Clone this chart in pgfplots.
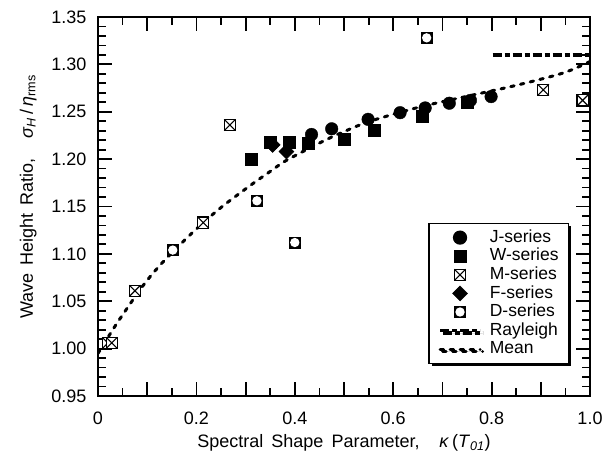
\documentclass[border=0pt]{standalone}
\usepackage{fontspec}
\setmainfont{Liberation Sans}
\usepackage{pgfplots}
\pgfplotsset{compat=1.18}
\usetikzlibrary{shadows}

\pgfdeclareplotmark{sqx}{%
  \pgfpathrectangle{\pgfqpoint{-\pgfplotmarksize}{-\pgfplotmarksize}}{\pgfqpoint{2\pgfplotmarksize}{2\pgfplotmarksize}}%
  \pgfusepathqfillstroke
  \pgfpathmoveto{\pgfqpoint{-\pgfplotmarksize}{-\pgfplotmarksize}}%
  \pgfpathlineto{\pgfqpoint{\pgfplotmarksize}{\pgfplotmarksize}}%
  \pgfpathmoveto{\pgfqpoint{-\pgfplotmarksize}{\pgfplotmarksize}}%
  \pgfpathlineto{\pgfqpoint{\pgfplotmarksize}{-\pgfplotmarksize}}%
  \pgfusepathqstroke
}
\pgfdeclareplotmark{sqo}{%
  \pgfsetfillcolor{black}%
  \pgfpathrectangle{\pgfqpoint{-\pgfplotmarksize}{-\pgfplotmarksize}}{\pgfqpoint{2\pgfplotmarksize}{2\pgfplotmarksize}}%
  \pgfusepathqfill
  \pgfsetfillcolor{white}%
  \pgfpathcircle{\pgfpointorigin}{0.78\pgfplotmarksize}%
  \pgfusepathqfill
}
\pgfdeclareplotmark{dia}{%
  \pgfpathmoveto{\pgfqpoint{0pt}{\pgfplotmarksize}}%
  \pgfpathlineto{\pgfqpoint{\pgfplotmarksize}{0pt}}%
  \pgfpathlineto{\pgfqpoint{0pt}{-\pgfplotmarksize}}%
  \pgfpathlineto{\pgfqpoint{-\pgfplotmarksize}{0pt}}%
  \pgfpathclose
  \pgfusepathqfillstroke
}

\begin{document}
\begin{tikzpicture}[font=\fontsize{18bp}{21bp}\selectfont]
\begin{axis}[
  scale only axis, width=492bp, height=379bp,
  xmin=0, xmax=1, ymin=0.95, ymax=1.35,
  axis line style={line width=2.6bp},
  every tick/.style={black, line width=1.8bp},
  tick align=inside,
  major tick length=14bp, minor tick length=8.5bp,
  xtick={0,0.1,0.2,0.3,0.4,0.5,0.6,0.7,0.8,0.9,1.0},
  xticklabels={0,{},0.2,{},0.4,{},0.6,{},0.8,{},1.0},
  minor x tick num=1,
  ytick={0.95,1.00,1.05,1.10,1.15,1.20,1.25,1.30,1.35},
  yticklabels={0.95,1.00,1.05,1.10,1.15,1.20,1.25,1.30,1.35},
  minor y tick num=4,
  /pgf/number format/assume math mode=true,
  yticklabel style={xshift=-8bp},
  xticklabel style={yshift=-12bp},
  xlabel style={yshift=-3bp},
  ylabel style={at={(axis description cs:-0.142,0.525)}, anchor=center},
  xlabel={Spectral\hspace{0.45em}Shape\hspace{0.45em}Parameter,\hspace{1.1em}\textit{κ}\,(\textit{T}\textsubscript{\textit{01}})},
  ylabel={Wave\hspace{0.45em}Height\hspace{0.45em}Ratio,\hspace{1.1em}\textit{σ}\textsubscript{\textit{H}}\,/\,\textit{η}\textsubscript{rms}},
  legend cell align=left,
  legend image code/.code={\draw[mark repeat=2,mark phase=2,#1] plot coordinates {(0bp,0bp) (20bp,0bp) (40bp,0bp)};},
  legend style={at={(rel axis cs:0.958,0.0836)}, anchor=south east,
    draw=black, line width=1.6bp, fill=white,
    drop shadow={shadow xshift=2.5bp, shadow yshift=-2.5bp, fill=black, opacity=1},
    font=\fontsize{17.5bp}{18.6bp}\selectfont,
    inner xsep=9bp, inner ysep=5bp,
    nodes={text height=13bp, text depth=3.6bp, inner ysep=1bp, inner xsep=1bp},
    /tikz/every odd column/.append style={column sep=7bp},
    row sep=0bp},
]
\addplot[only marks, mark=*, mark size=6.3bp, mark options={fill=black, draw=black}]
  coordinates {(0.434,1.226) (0.475,1.232) (0.549,1.242) (0.614,1.249) (0.665,1.254) (0.714,1.259) (0.757,1.262) (0.799,1.266)};
\addlegendentry{J-series}
\addplot[only marks, mark=square*, mark size=6bp, mark options={fill=black, draw=black, line width=0.5bp}]
  coordinates {(0.312,1.200) (0.350,1.218) (0.388,1.218) (0.427,1.217) (0.500,1.221) (0.562,1.230) (0.660,1.245) (0.750,1.260)};
\addlegendentry{W-series}
\addplot[only marks, mark=sqx, mark size=5.6bp, mark options={fill=white, draw=black, line width=1.1bp}]
  coordinates {(0.020,1.006) (0.028,1.006) (0.075,1.061) (0.214,1.133) (0.268,1.236) (0.905,1.273) (0.985,1.262)};
\addlegendentry{M-series}
\addplot[only marks, mark=dia, mark size=7.5bp, mark options={fill=black, draw=black, line width=0.5bp}]
  coordinates {(0.355,1.215) (0.383,1.208)};
\addlegendentry{F-series}
\addplot[only marks, mark=sqo, mark size=6bp]
  coordinates {(0.152,1.104) (0.323,1.156) (0.400,1.112) (0.668,1.328)};
\addlegendentry{D-series}
\addplot[black, line width=3.6bp, dash pattern=on 9bp off 3bp on 5bp off 3bp]
  coordinates {(0.802,1.310) (1.0,1.310)};
\addlegendentry{Rayleigh}
\addplot[black, line width=3bp, line cap=round, dash pattern=on 3.5bp off 6.5bp, smooth]
  coordinates {(0.000,0.995) (0.035,1.024) (0.065,1.047) (0.085,1.062) (0.106,1.076) (0.126,1.088) (0.146,1.099) (0.173,1.113) (0.214,1.133) (0.255,1.151) (0.309,1.172) (0.350,1.187) (0.384,1.199) (0.458,1.219) (0.500,1.229) (0.553,1.240) (0.654,1.255) (0.756,1.267) (0.851,1.278) (0.946,1.291) (1.000,1.303)};
\addlegendentry{Mean}
\end{axis}
\pgfresetboundingbox
\path[use as bounding box] (-98bp,-63bp) rectangle (506bp,396bp);
\end{tikzpicture}
\end{document}
